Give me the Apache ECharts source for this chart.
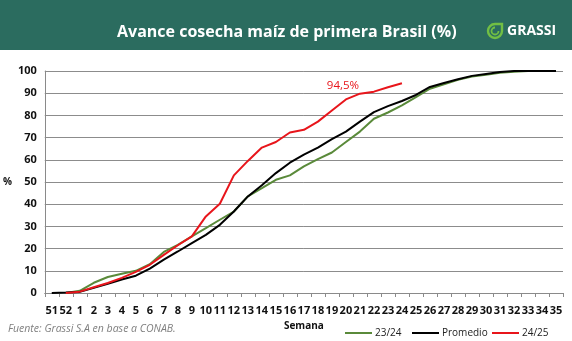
<!DOCTYPE html>
<html>
<head>
<meta charset="utf-8">
<script src="https://cdn.jsdelivr.net/npm/echarts@6/dist/echarts.min.js"></script>
<style>
html,body{margin:0;padding:0;background:#fff;}
#c{width:572px;height:341px;}
</style>
</head>
<body>
<div id="c"></div>
<script>
var weeks = ['51','52','1','2','3','4','5','6','7','8','9','10','11','12','13','14','15','16','17','18','19','20','21','22','23','24','25','26','27','28','29','30','31','32','33','34','35'];
var s2324 = [null,0,1,4.6,7.2,8.7,10,13,18.5,21.7,25.5,29.2,33,36.7,43.5,47.2,51,53,57,60.3,63.3,68,72.7,78.5,81.3,84.5,88.2,92,94,96,97.5,98.3,99.2,99.7,100,null,null];
var promedio = [0,0.2,0.5,2.3,4.2,6.1,7.8,11,15,18.7,22.5,26.2,30.7,36.7,43.5,48.5,54,58.7,62.3,65.5,69.3,72.7,77.2,81.5,84.2,86.5,89.2,92.8,94.6,96.3,97.8,98.7,99.5,100,100,100,100];
var s2425 = [null,0,0.6,2.6,4.5,6.8,9.5,12.7,17.2,21.5,25.5,34.5,40.2,53,59.5,65.5,68,72.3,73.5,77.2,82.2,87.2,89.8,90.7,92.7,94.5,null,null,null,null,null,null,null,null,null,null,null];
var yTicks = [0,10,20,30,40,50,60,70,80,90,100];
var lastLabel = '94,5%';

var chart = echarts.init(document.getElementById('c'), null, {renderer:'canvas'});
var F = 'Open Sans, Liberation Sans, sans-serif';
var legendBase = {
  top: 323, itemWidth: 27, itemHeight: 2, icon: 'rect', itemGap: 0,
  textStyle: {fontFamily: F, fontSize: 10, color: '#222', padding:[0,0,0,-2]},
  selectedMode: false
};
chart.setOption({
  animation: false,
  backgroundColor: '#ffffff',
  graphic: [
    {type:'rect', left:0, top:0, shape:{width:572, height:50}, style:{fill:'#2b6c5f'}},
    {type:'text', left:117, top:24, style:{text:'Avance cosecha maíz de primera Brasil (%)', fill:'#ffffff', font:'bold 16px '+F}},
    {type:'arc', shape:{cx:495, cy:31, r:7, startAngle:0, endAngle:Math.PI*1.5, clockwise:true}, style:{fill:'none', stroke:'#72bf44', lineWidth:2.4}},
    {type:'polyline', shape:{points:[[495,24],[502,24],[502,31]]}, style:{fill:'none', stroke:'#72bf44', lineWidth:2.4}},
    {type:'arc', shape:{cx:495, cy:31, r:3.5, startAngle:0, endAngle:Math.PI*1.5, clockwise:true}, style:{fill:'none', stroke:'#72bf44', lineWidth:1.8}},
    {type:'text', left:507, top:24, style:{text:'GRASSI', fill:'#ffffff', font:'bold 14px '+F}},
    {type:'text', left:8, top:324, style:{text:'Fuente: Grassi S.A en base a CONAB.', fill:'#7f7f7f', font:'italic 10.5px '+F}}
  ],
  legend: [
    Object.assign({}, legendBase, {left:340, data:['23/24']}),
    Object.assign({}, legendBase, {left:407, data:['Promedio']}),
    Object.assign({}, legendBase, {left:487, data:['24/25']})
  ],
  grid: {left:38, right:9, top:71, bottom:48, containLabel:false},
  xAxis: {
    type:'category', data: weeks, boundaryGap: true,
    name:'Semana', nameLocation:'middle', nameGap:27,
    nameTextStyle:{fontFamily:F, fontSize:10, fontWeight:'bold', color:'#111'},
    axisLine:{lineStyle:{color:'#8a8a8a', width:1}},
    axisTick:{show:true, length:4, lineStyle:{color:'#8a8a8a'}},
    axisLabel:{interval:0, fontFamily:F, fontSize:11, fontWeight:'bold', color:'#111', margin:12}
  },
  yAxis: {
    type:'value', min:0, max:100, interval:10,
    name:'%', nameLocation:'middle', nameRotate:0, nameGap:24,
    nameTextStyle:{fontFamily:F, fontSize:10, fontWeight:'bold', color:'#111'},
    axisLine:{show:true, lineStyle:{color:'#8a8a8a'}},
    axisTick:{show:false},
    splitLine:{lineStyle:{color:'#8c8c8c', width:1}},
    axisLabel:{fontFamily:F, fontSize:11, fontWeight:'bold', color:'#111', margin:8,
      formatter:function(v){return yTicks.indexOf(v) >= 0 ? String(v) : '';}}
  },
  series: [
    {name:'23/24', type:'line', data:s2324, symbol:'none', lineStyle:{color:'#5a8a3a', width:2}, itemStyle:{color:'#5a8a3a'}, z:2},
    {name:'Promedio', type:'line', data:promedio, symbol:'none', lineStyle:{color:'#000000', width:2}, itemStyle:{color:'#000'}, z:3},
    {name:'24/25', type:'line', data:s2425, symbol:'none', lineStyle:{color:'#e8151b', width:2}, itemStyle:{color:'#e8151b'}, z:4,
      markPoint:{symbol:'circle', symbolSize:1, silent:true,
        itemStyle:{color:'rgba(0,0,0,0)'},
        data:[{coord:['24', 94.5]}],
        label:{show:true, formatter:lastLabel, offset:[-59,3], color:'#e8151b', fontFamily:F, fontSize:11.5}}}
  ]
});
</script>
</body>
</html>
